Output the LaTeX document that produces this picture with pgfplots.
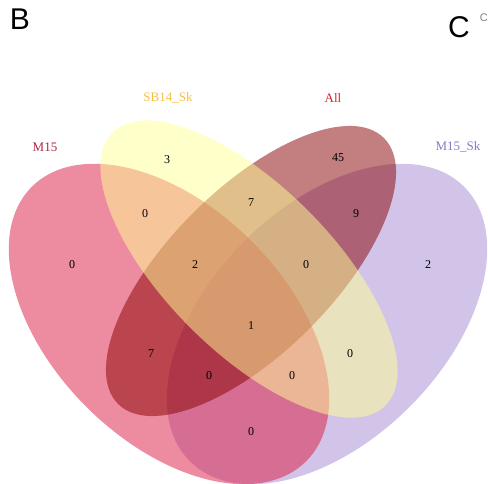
\documentclass[border=0pt]{standalone}
\usepackage{pgfplots}
\pgfplotsset{compat=1.18}
\usepackage{fontspec}
\setmainfont{Liberation Serif}
\newfontfamily\sansf{Liberation Sans}
\definecolor{cM}{RGB}{220,25,65}
\definecolor{cS}{RGB}{255,255,150}
\definecolor{cA}{RGB}{136,0,0}
\definecolor{cK}{RGB}{165,138,210}
\definecolor{lM}{RGB}{175,40,70}
\definecolor{lS}{RGB}{248,190,70}
\definecolor{lA}{RGB}{220,30,40}
\definecolor{lK}{RGB}{140,120,200}
\pgfplotstableread{
x y label
167 324 3
338 326 45
145 270 0
251 281 7
356 270 9
72 219 0
195 219 2
306 219 0
428 219 2
251 158 1
151 130 7
350 130 0
209 108 0
292 108 0
251 52 0
}\counts
\begin{document}
\begin{tikzpicture}
\begin{axis}[
  scale only axis, width=488bp, height=484bp,
  xmin=0, xmax=488, ymin=0, ymax=484,
  hide axis, clip=false, anchor=south west, at={(0,0)},
]
% ellipses (drawing order: M15_Sk, M15, All, SB14_Sk)
\begin{scope}[shift={(axis cs:327,160)}, rotate=45]
 \fill[cK, fill opacity=0.5] (0,0) ellipse [x radius=194bp, y radius=117bp];
\end{scope}
\begin{scope}[shift={(axis cs:169,160)}, rotate=-45]
 \fill[cM, fill opacity=0.5] (0,0) ellipse [x radius=194bp, y radius=117bp];
\end{scope}
\begin{scope}[shift={(axis cs:251,213)}, rotate=45]
 \fill[cA, fill opacity=0.5] (0,0) ellipse [x radius=188bp, y radius=82bp];
\end{scope}
\begin{scope}[shift={(axis cs:249,215)}, rotate=-45]
 \fill[cS, fill opacity=0.5] (0,0) ellipse [x radius=193bp, y radius=83bp];
\end{scope}
\addplot[only marks, mark=none, nodes near coords, point meta=explicit symbolic,
  every node near coord/.style={anchor=center, font=\fontsize{12bp}{14bp}\selectfont, text=black}]
  table[x=x, y=y, meta=label] {\counts};
% set labels
\node[lM, font=\fontsize{13bp}{15bp}\selectfont] at (axis cs:45,337) {M15};
\node[lS, font=\fontsize{13bp}{15bp}\selectfont] at (axis cs:168,386) {SB14\_Sk};
\node[lA, font=\fontsize{13bp}{15bp}\selectfont] at (axis cs:333,386) {All};
\node[lK, font=\fontsize{13bp}{15bp}\selectfont] at (axis cs:458,337) {M15\_Sk};
% panel letters
\node[font=\sansf\fontsize{30bp}{32bp}\selectfont, anchor=center] at (axis cs:20,465) {B};
\node[font=\sansf\fontsize{30bp}{32bp}\selectfont, anchor=center] at (axis cs:459,457) {C};
\node[gray, font=\sansf\fontsize{11bp}{13bp}\selectfont, anchor=east, inner sep=0pt] at (axis cs:488,466) {C};
\end{axis}
\pgfresetboundingbox
\path (0,0) rectangle (488bp,484bp);
\end{tikzpicture}
\end{document}
